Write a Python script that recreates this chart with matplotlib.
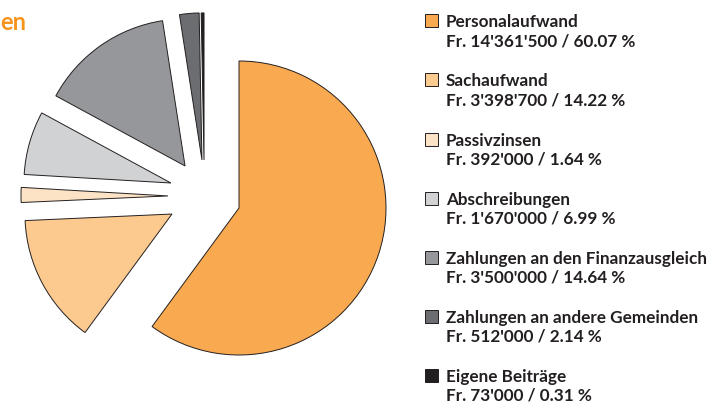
import matplotlib
matplotlib.use("Agg")
import matplotlib.pyplot as plt
from matplotlib.patches import Rectangle

# ---- data ----
categories = ["Personalaufwand", "Sachaufwand", "Passivzinsen", "Abschreibungen",
              "Zahlungen an den Finanzausgleich", "Zahlungen an andere Gemeinden",
              "Eigene Beiträge"]
amounts = [14361500, 3398700, 392000, 1670000, 3500000, 512000, 73000]
percents = [60.07, 14.22, 1.64, 6.99, 14.64, 2.14, 0.31]
title_fragment = "en"

# ---- style ----
colors = ["#F9A94F", "#FCC98F", "#FDE3C6", "#D1D2D4", "#96979A", "#6C6D70", "#231F20"]
# offsets of each wedge apex (in radius units) as in the reference
offsets = [(0.0, 0.0), (-0.456, -0.041), (-0.483, 0.082), (-0.463, 0.170),
           (-0.367, 0.286), (-0.252, 0.327), (-0.238, 0.327)]
edge = "#231F20"
text_color = "#231F20"

W, H, DPI = 714, 403, 100
fig = plt.figure(figsize=(W / DPI, H / DPI), dpi=DPI)
ax = fig.add_axes([0, 0, 1, 1])

R = 147.0  # px per radius
cx, cy = 239.0, 208.0

wedges, _ = ax.pie(amounts, colors=colors, startangle=90, counterclock=False,
                   wedgeprops=dict(edgecolor=edge, linewidth=0.7))
for w, off in zip(wedges, offsets):
    w.set_center(off)

ax.set_xlim(-cx / R, (W - cx) / R)
ax.set_ylim(-(H - cy) / R, cy / R)
ax.set_aspect("auto")
ax.axis("off")


def fmt(v):
    return f"{v:,}".replace(",", "'")


# ---- legend (manual, pixel layout) ----
fs = 12.3
x_box, box = 425, 13
x_text = 446
base0, step, line2 = 27.3, 59.1, 18.8
for i, (c, a, p, col) in enumerate(zip(categories, amounts, percents, colors)):
    b = base0 + i * step
    fig.patches.append(Rectangle((x_box / W, 1 - b / H), box / W, box / H,
                                 transform=fig.transFigure, facecolor=col,
                                 edgecolor=edge, linewidth=0.7))
    fig.text(x_text / W, 1 - b / H, c, ha="left", va="baseline",
             color=text_color, fontsize=fs, fontweight="bold", family="Lato")
    fig.text(x_text / W, 1 - (b + line2) / H, f"Fr. {fmt(a)} / {p:.2f} %",
             ha="left", va="baseline", color=text_color, fontsize=fs,
             fontweight="bold", family="Lato")

fig.text(0.5 / W, 1 - 30 / H, title_fragment, ha="left", va="baseline",
         color="#F7941D", fontsize=17, fontweight="bold", family="Lato")

fig.savefig("out.png", dpi=DPI)
